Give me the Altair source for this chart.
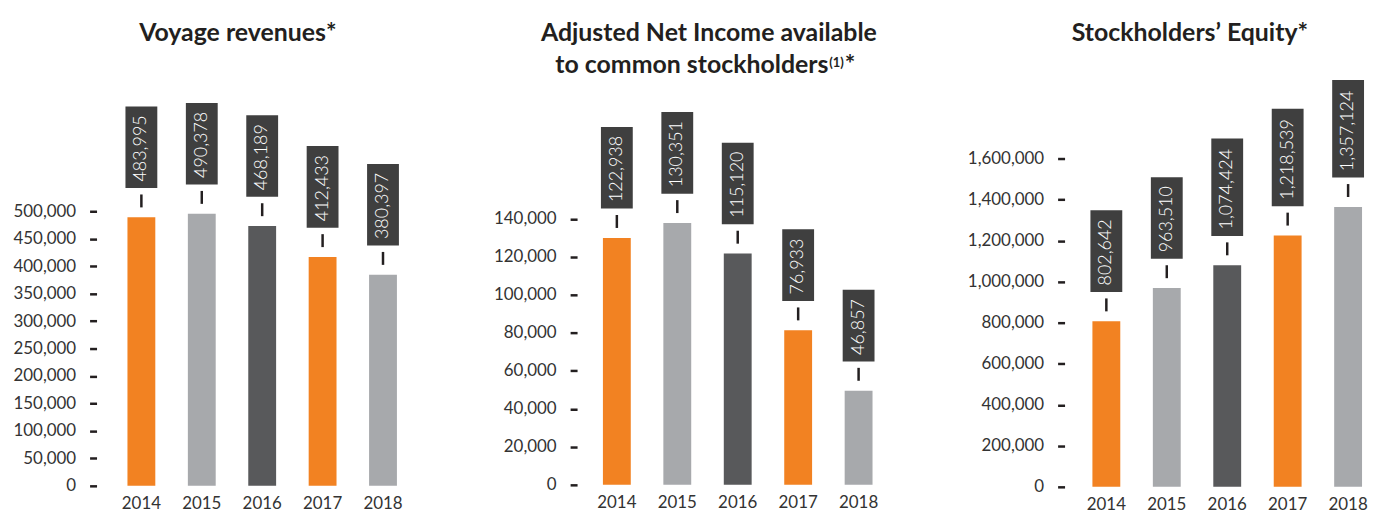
import altair as alt
import pandas as pd

YEARS = ["2014", "2015", "2016", "2017", "2018"]
REVENUES = [483995, 490378, 468189, 412433, 380397]
NET_INCOME = [122938, 130351, 115120, 76933, 46857]
EQUITY = [802642, 963510, 1074424, 1218539, 1357124]

TITLE_1 = "Voyage revenues*"
TITLE_2_LINE1 = "Adjusted Net Income available"
TITLE_2_LINE2 = "to common stockholders"
TITLE_2_NOTE = "(1)"
TITLE_2_STAR = "*"
TITLE_3 = "Stockholders\u2019 Equity*"

TICKS_1 = list(range(0, 500001, 50000))
TICKS_2 = list(range(0, 140001, 20000))
TICKS_3 = list(range(0, 1600001, 200000))

BAR_COLORS = ["#F28222", "#A7A9AC", "#58595B", "#F28222", "#A7A9AC"]
BOX_COLOR = "#3F3F3F"
INK = "#231F20"
FONT = "Lato"
BOX_H = {5: 64, 6: 72, 7: 82, 8: 90, 9: 98}


def text_layer(txt, x, y, size, align="center", weight="bold"):
    return alt.Chart(pd.DataFrame({"t": [txt]})).mark_text(
        font=FONT, fontSize=size, fontWeight=weight, color=INK,
        align=align, baseline="alphabetic"
    ).encode(text="t:N", x=alt.value(x), y=alt.value(y))


def panel(values, ticks, axis_max, bar_max, width, height, axis_offset,
          pad_outer, align, titles):
    df = pd.DataFrame({"year": YEARS, "value": values})
    df["label"] = [f"{v:,}" for v in values]
    base = alt.Chart(df)
    xenc = alt.X(
        "year:N", sort=YEARS,
        scale=alt.Scale(paddingInner=0.539, paddingOuter=pad_outer, align=align),
        axis=alt.Axis(title=None, ticks=False, domain=False, labelAngle=0,
                      labelPadding=10, labelFontSize=17, labelColor="#333333",
                      labelFont=FONT),
    )
    yscale = alt.Scale(domain=[0, bar_max], nice=False, zero=True)
    ybar = alt.Y("value:Q", scale=yscale, axis=None)

    axis_layer = base.mark_rule(opacity=0).encode(
        y=alt.Y("value:Q",
                scale=alt.Scale(domain=[0, axis_max], nice=False, zero=True),
                axis=alt.Axis(values=ticks, format=",d", title=None, orient="left",
                              domain=False, grid=False, tickSize=7, tickWidth=2.5,
                              tickColor=INK, labelPadding=14, labelFontSize=17,
                              labelColor="#333333", labelFont=FONT,
                              labelOverlap=False, offset=axis_offset))
    )
    bars = base.mark_bar().encode(
        x=xenc, y=ybar,
        color=alt.Color("year:N", scale=alt.Scale(domain=YEARS, range=BAR_COLORS),
                        legend=None),
    )
    marks = base.mark_rule(strokeWidth=2.5, color=INK, yOffset=-10,
                           y2Offset=-23).encode(x=xenc, y=ybar, y2="value:Q")
    layers = [axis_layer, bars, marks]
    for n in sorted(set(len(s) for s in df["label"])):
        layers.append(
            base.transform_filter(f"length(datum.label) == {n}").mark_bar(
                width=32, color=BOX_COLOR, yOffset=-29.5,
                y2Offset=-(29.5 + BOX_H[n])
            ).encode(x=xenc, y=ybar, y2="value:Q")
        )
    labels = base.mark_text(
        angle=270, align="left", baseline="middle", color="white",
        fontSize=18, font=FONT, fontWeight=300, yOffset=-36
    ).encode(x=xenc, y=ybar, text="label:N")
    layers.append(labels)
    layers.extend(titles)
    return alt.layer(*layers).resolve_scale(y="independent").properties(
        width=width, height=height)


p1 = panel(REVENUES, TICKS_1, 748188, 740667, 283, 413, 25, 0.1, 0.5,
           [text_layer(TITLE_1, 117, -34, 25)])
p2 = panel(NET_INCOME, TICKS_2, 215787, 204061, 297, 412, 20, 0.214, 0.23,
           [text_layer(TITLE_2_LINE1, 112.5, -34, 25),
            text_layer(TITLE_2_LINE2, 232.7, -2, 25, align="right"),
            text_layer(TITLE_2_NOTE, 233.5, -8, 13, align="left"),
            text_layer(TITLE_2_STAR, 249, -2, 25, align="left")])
p3 = panel(EQUITY, TICKS_3, 2007273, 1997106, 280, 414, 22, 0.074, 0.667,
           [text_layer(TITLE_3, 104, -34, 25)])

chart = alt.hconcat(p1, p2, p3, spacing=195, bounds="flush").configure_view(
    stroke=None
).properties(padding={"left": 4, "top": 12, "right": 0, "bottom": 0})

chart.save("out.html", embed_options={"renderer": "svg", "actions": False})
